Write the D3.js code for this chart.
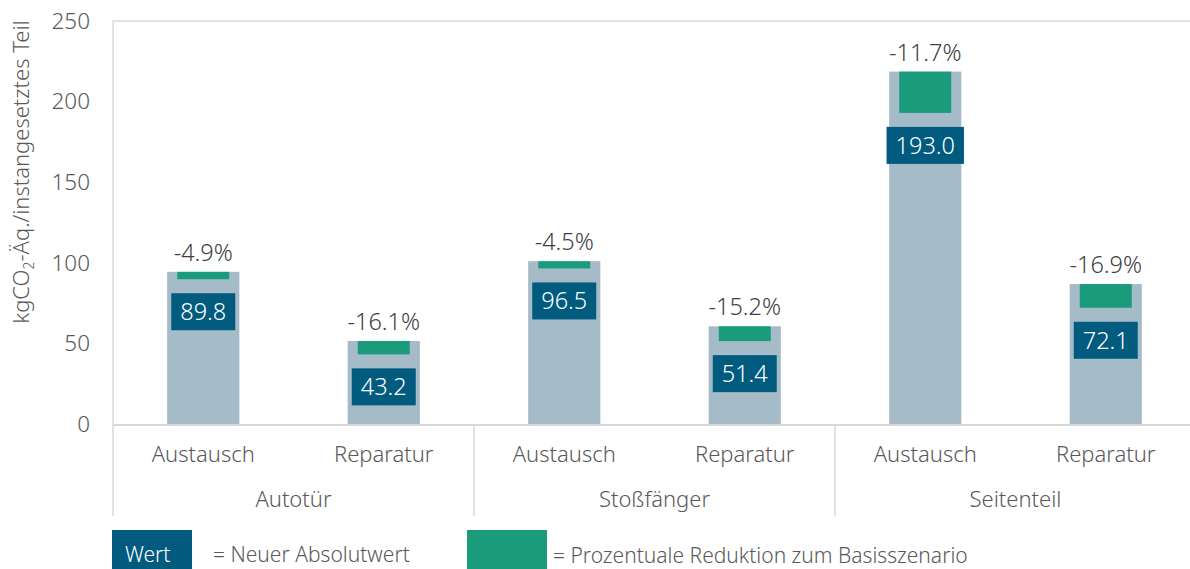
<!DOCTYPE html>
<html>
<head>
<meta charset="utf-8">
<script src="https://cdn.jsdelivr.net/npm/d3@7"></script>
<style>
  body { margin: 0; background: #fff; }
  svg text { font-family: "Noto Sans", "Open Sans", sans-serif; font-weight: 300; fill: #595959; }
</style>
</head>
<body>
<svg id="chart" width="1190" height="569"></svg>
<script>
// values
var groups = ["Autotür", "Stoßfänger", "Seitenteil"];
var categories = ["Austausch", "Reparatur", "Austausch", "Reparatur", "Austausch", "Reparatur"];
var baseValues = [94.4, 51.5, 101.0, 60.6, 218.6, 86.8];
var newValues = [89.8, 43.2, 96.5, 51.4, 193.0, 72.1];
var reductions = [-4.9, -16.1, -4.5, -15.2, -11.7, -16.9];
var yTicks = [0, 50, 100, 150, 200, 250];

var svg = d3.select("#chart");

var plotLeft = 113, plotRight = 1196, plotTop = 21, plotBottom = 424;

var xScale = d3.scaleBand()
    .domain(d3.range(categories.length))
    .range([plotLeft, plotRight])
    .paddingInner(0.6)
    .paddingOuter(0.3);

var yScale = d3.scaleLinear()
    .domain([0, 250])
    .range([plotBottom, plotTop]);

var step = xScale.step();

// plot frame (left + top)
svg.append("path")
    .attr("d", "M" + plotLeft + "," + (plotBottom + 92) + "V" + plotTop + "H" + (plotRight + 2))
    .attr("fill", "none")
    .attr("stroke", "#d9d9d9")
    .attr("stroke-width", 1.5);

// y axis
var yAxis = d3.axisLeft(yScale)
    .tickValues(yTicks)
    .tickSize(0)
    .tickPadding(23);

svg.append("g")
    .attr("transform", "translate(" + plotLeft + ",0)")
    .call(yAxis)
    .call(function (g) { g.select(".domain").remove(); })
    .selectAll("text")
    .style("font-size", "22.5px")
    .style("fill", "#595959")
    .attr("font-family", "Noto Sans");

// y axis title
var title = svg.append("text")
    .attr("transform", "translate(29,172) rotate(-90)")
    .attr("text-anchor", "middle")
    .style("font-size", "22px");
title.append("tspan").text("kgCO");
title.append("tspan").text("2").attr("dy", 5).style("font-size", "14px");
title.append("tspan").text("-Äq./instangesetztes Teil").attr("dy", -5);

// gray bars (base scenario)
svg.append("g").selectAll("rect")
    .data(baseValues)
    .enter()
    .append("rect")
    .attr("x", function (d, i) { return xScale(i); })
    .attr("y", function (d) { return yScale(d); })
    .attr("width", xScale.bandwidth())
    .attr("height", function (d) { return plotBottom - yScale(d); })
    .attr("fill", "#a6bbc8");

// green reduction segment
var greenW = xScale.bandwidth() * 0.72;
svg.append("g").selectAll("rect")
    .data(newValues)
    .enter()
    .append("rect")
    .attr("x", function (d, i) { return xScale(i) + (xScale.bandwidth() - greenW) / 2; })
    .attr("y", function (d, i) { return yScale(baseValues[i]); })
    .attr("width", greenW)
    .attr("height", function (d, i) { return yScale(d) - yScale(baseValues[i]); })
    .attr("fill", "#1a9b7b");

// percent labels
svg.append("g").selectAll("text")
    .data(reductions)
    .enter()
    .append("text")
    .attr("x", function (d, i) { return xScale(i) + xScale.bandwidth() / 2; })
    .attr("y", function (d, i) { return yScale(baseValues[i]) - 11; })
    .attr("text-anchor", "middle")
    .style("font-size", "23.5px")
    .style("fill", "#404040")
    .text(function (d) { return d.toFixed(1) + "%"; });

// new absolute value boxes
var labels = svg.append("g").selectAll("g")
    .data(newValues)
    .enter()
    .append("g")
    .attr("transform", function (d, i) {
        return "translate(" + (xScale(i) + xScale.bandwidth() / 2) + "," + (yScale(d) + 14) + ")";
    });

labels.append("rect").attr("fill", "#005b7f");
labels.append("text")
    .attr("text-anchor", "middle")
    .attr("y", 27)
    .style("font-size", "23.5px")
    .style("fill", "#ffffff")
    .text(function (d) { return d.toFixed(1); });

labels.each(function () {
    var g = d3.select(this);
    var w = g.select("text").node().getComputedTextLength() + 18;
    g.select("rect")
        .attr("x", -w / 2)
        .attr("y", 0)
        .attr("width", w)
        .attr("height", 37);
});

// baseline
svg.append("line")
    .attr("x1", plotLeft).attr("x2", plotRight + 2)
    .attr("y1", plotBottom + 1).attr("y2", plotBottom + 1)
    .attr("stroke", "#d9d9d9")
    .attr("stroke-width", 2);

// group separators
svg.append("g").selectAll("line")
    .data(d3.range(1, groups.length))
    .enter()
    .append("line")
    .attr("x1", function (d) { return plotLeft + d * 2 * step; })
    .attr("x2", function (d) { return plotLeft + d * 2 * step; })
    .attr("y1", plotBottom)
    .attr("y2", plotBottom + 92)
    .attr("stroke", "#d9d9d9")
    .attr("stroke-width", 1.5);

// category labels
svg.append("g").selectAll("text")
    .data(categories)
    .enter()
    .append("text")
    .attr("x", function (d, i) { return xScale(i) + xScale.bandwidth() / 2; })
    .attr("y", 462)
    .attr("text-anchor", "middle")
    .style("font-size", "22px")
    .text(function (d) { return d; });

// group labels
svg.append("g").selectAll("text")
    .data(groups)
    .enter()
    .append("text")
    .attr("x", function (d, i) { return plotLeft + (i + 0.5) * 2 * step; })
    .attr("y", 507)
    .attr("text-anchor", "middle")
    .style("font-size", "22px")
    .text(function (d) { return d; });

// legend
svg.append("rect")
    .attr("x", 112).attr("y", 530)
    .attr("width", 80).attr("height", 45)
    .attr("fill", "#005b7f");
svg.append("text")
    .attr("x", 125).attr("y", 562)
    .style("font-size", "21px")
    .style("fill", "#ffffff")
    .text("Wert");
svg.append("text")
    .attr("x", 213).attr("y", 562)
    .style("font-size", "21px")
    .text("= Neuer Absolutwert");

svg.append("rect")
    .attr("x", 467).attr("y", 530)
    .attr("width", 80).attr("height", 45)
    .attr("fill", "#1a9b7b");
svg.append("text")
    .attr("x", 553).attr("y", 563)
    .style("font-size", "21px")
    .text("= Prozentuale Reduktion zum Basisszenario");
</script>
</body>
</html>
